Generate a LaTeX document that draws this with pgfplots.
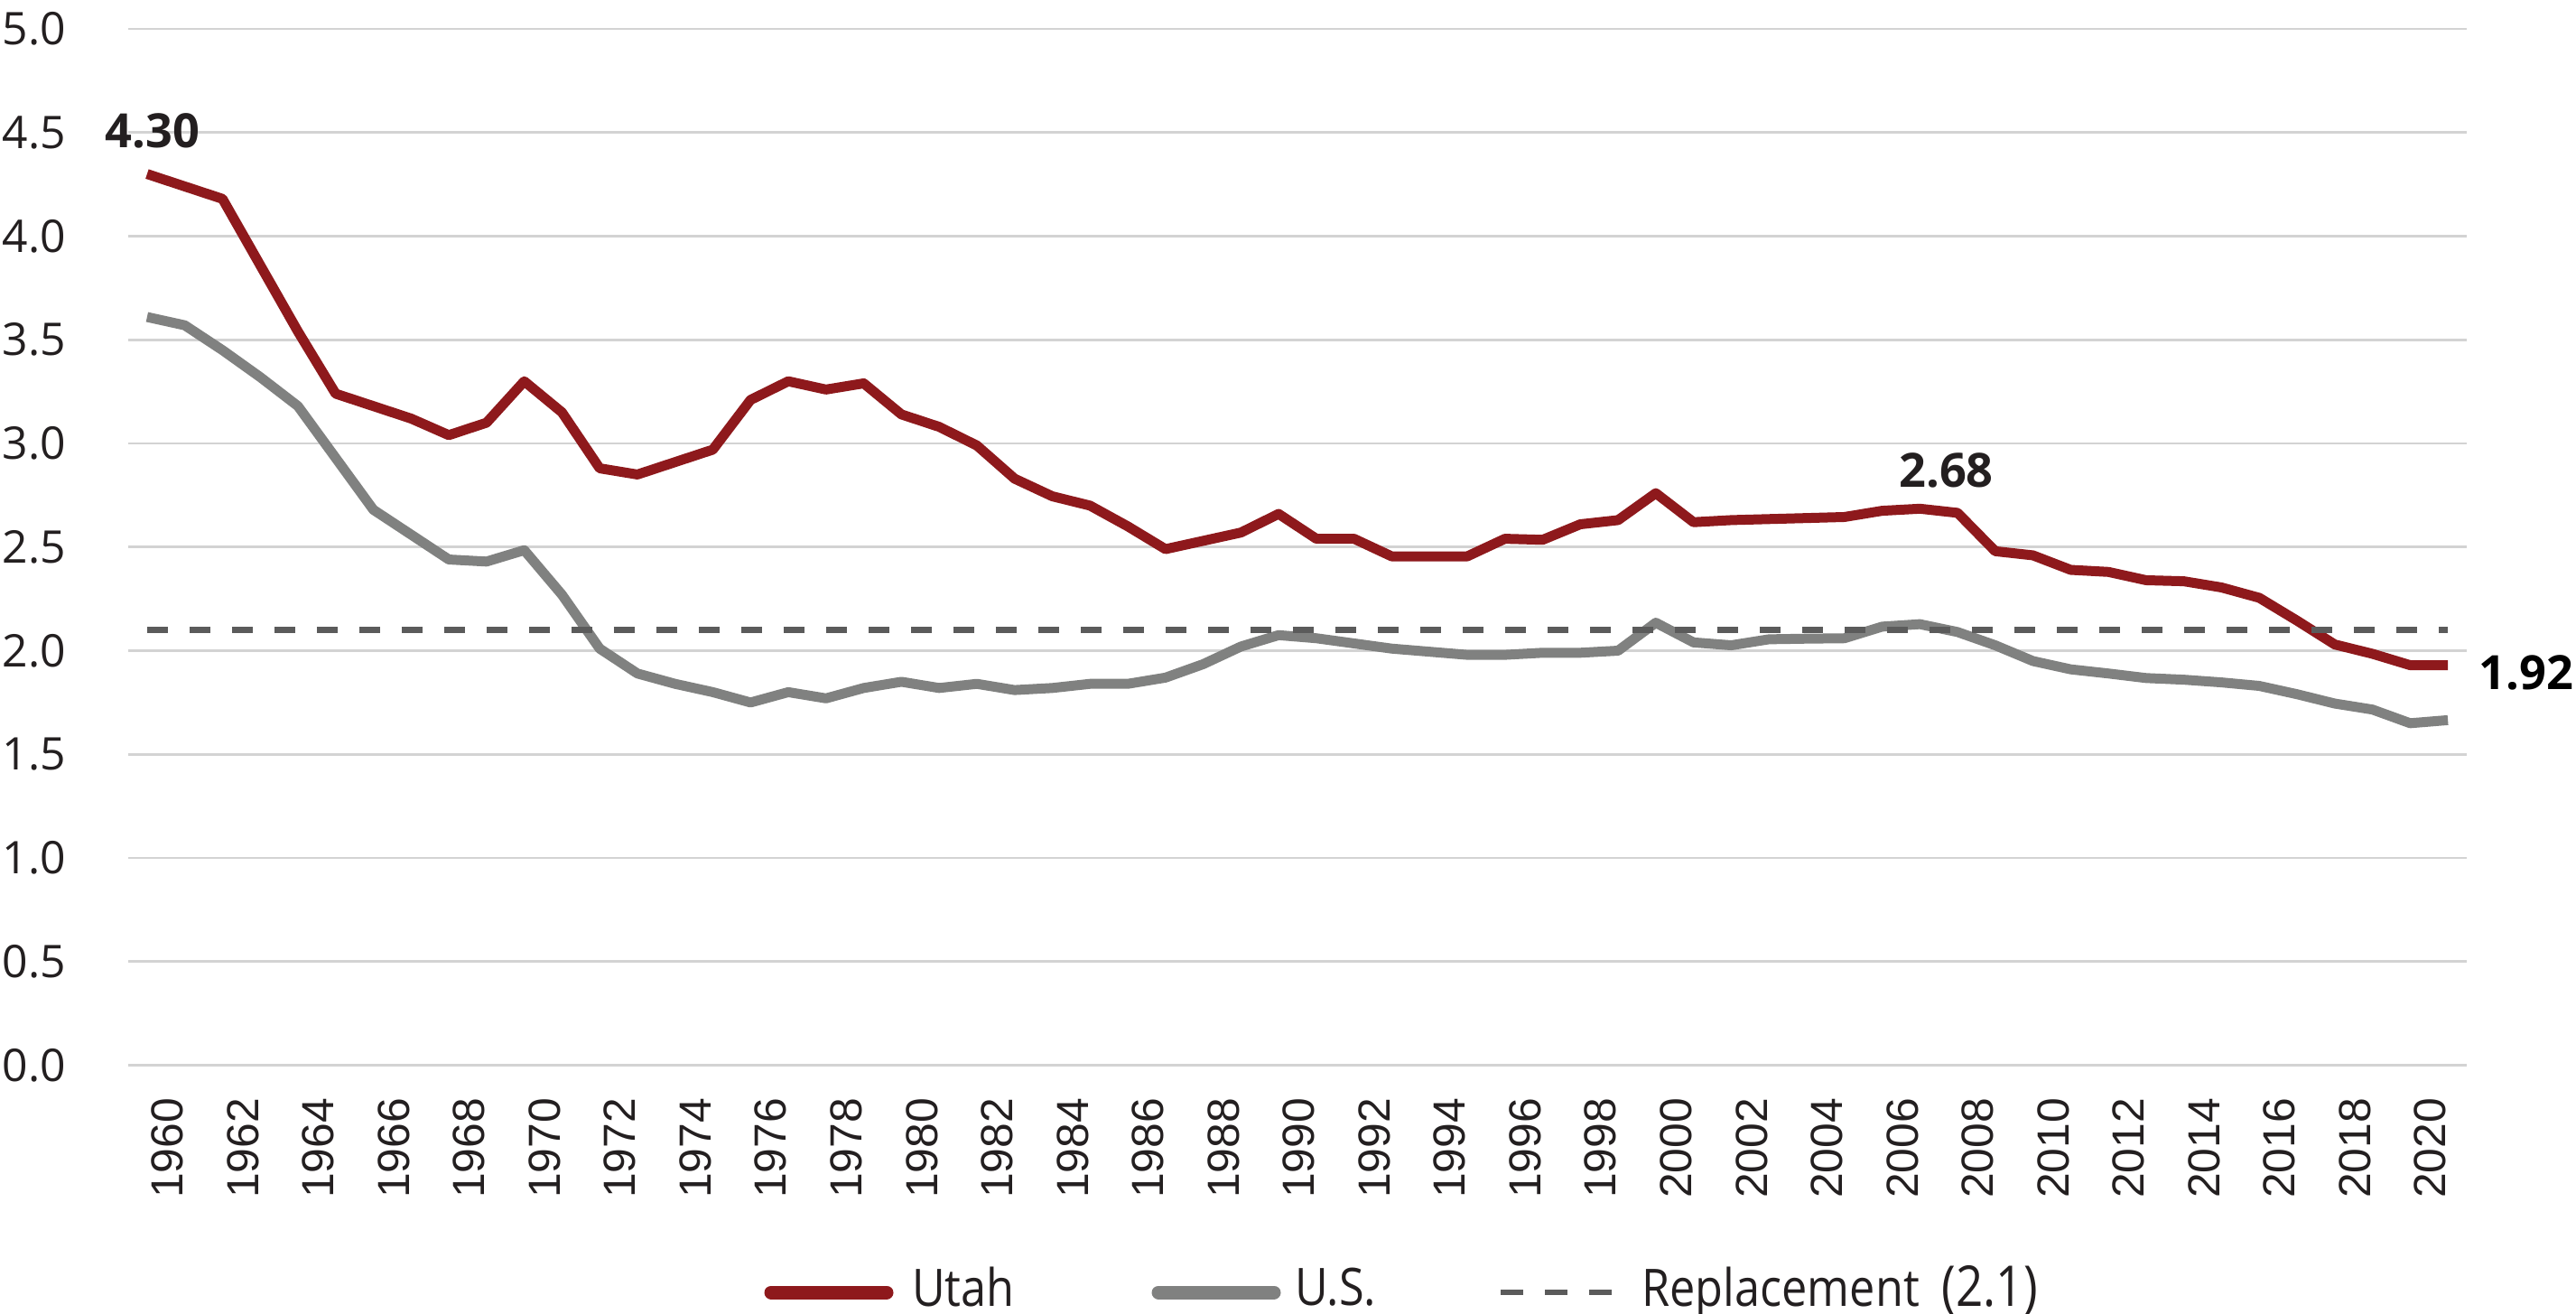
\documentclass[border=0pt]{standalone}
\usepackage{fontspec}
\setmainfont{Open Sans}
\newfontfamily\libsans{Liberation Sans}
\usepackage{graphicx}
\usepackage{pgfplots}
\pgfplotsset{compat=1.18}
\usepackage{pgfplotstable}

\definecolor{utahred}{HTML}{8E191C}
\definecolor{usgray}{HTML}{808180}
\definecolor{gridgray}{HTML}{D3D3D3}
\definecolor{dashgray}{HTML}{5B5B5B}
\definecolor{txt}{HTML}{231F20}

\pgfplotstableread{
year utah us
1960 4.30 3.61
1961 4.24 3.57
1962 4.18 3.45
1963 3.86 3.32
1964 3.54 3.18
1965 3.24 2.93
1966 3.18 2.68
1967 3.12 2.56
1968 3.04 2.44
1969 3.10 2.43
1970 3.30 2.485
1971 3.15 2.27
1972 2.88 2.01
1973 2.85 1.89
1974 2.91 1.84
1975 2.97 1.80
1976 3.21 1.75
1977 3.30 1.80
1978 3.26 1.77
1979 3.29 1.82
1980 3.14 1.85
1981 3.08 1.82
1982 2.99 1.84
1983 2.83 1.81
1984 2.745 1.82
1985 2.70 1.84
1986 2.60 1.84
1987 2.49 1.87
1988 2.53 1.935
1989 2.57 2.02
1990 2.66 2.075
1991 2.54 2.06
1992 2.54 2.035
1993 2.455 2.01
1994 2.455 1.995
1995 2.455 1.98
1996 2.54 1.98
1997 2.535 1.99
1998 2.61 1.99
1999 2.63 2.00
2000 2.76 2.135
2001 2.62 2.04
2002 2.63 2.026
2003 2.635 2.055
2004 2.64 2.058
2005 2.645 2.06
2006 2.675 2.116
2007 2.685 2.128
2008 2.665 2.09
2009 2.48 2.026
2010 2.46 1.95
2011 2.39 1.91
2012 2.38 1.89
2013 2.34 1.868
2014 2.335 1.86
2015 2.305 1.847
2016 2.255 1.83
2017 2.145 1.79
2018 2.03 1.745
2019 1.985 1.716
2020 1.93 1.65
2021 1.93 1.665
}\tfr

\begin{document}
\begin{tikzpicture}
\begin{axis}[
  scale only axis,
  width=518bp, height=229.5bp,
  xmin=1959.5, xmax=2021.5, ymin=0, ymax=5,
  clip=false,
  axis line style={draw=none},
  tick style={draw=none},
  major tick length=0pt,
  /pgf/number format/assume math mode=true,
  ytick={0,0.5,...,5},
  ymajorgrids,
  grid style={gridgray, line width=0.55bp},
  yticklabel style={/pgf/number format/.cd, fixed, fixed zerofill, precision=1, assume math mode=true, /tikz/.cd,
    font=\fontsize{10}{12}\selectfont, color=txt, anchor=east, inner sep=0pt, xshift=-13.6bp},
  xtick={1960,1962,...,2020},
  xticklabel style={/pgf/number format/.cd, 1000 sep={}, assume math mode=true, /tikz/.cd,
    font=\libsans\fontsize{10}{12}\selectfont, color=txt, inner sep=0pt,
    xshift=4.5bp, yshift=-7.1bp, rotate=90, anchor=east},
  legend columns=3,
  legend cell align=left,
  legend style={at={(0.2699,-0.2166)}, anchor=west, draw=none, fill=none,
    inner sep=0pt, outer sep=0pt,
    nodes={inner sep=0pt, text=txt},
    font=\fontsize{11.5}{13}\selectfont,
    column sep=0pt},
]
\addplot[utahred, line width=2.2bp, line join=round,
  legend image code/.code={\path (0bp,0bp) (28.6bp,0bp);
    \draw[utahred, line width=3bp, line cap=round] (1.5bp,-0.6bp) -- (27.1bp,-0.6bp);}]
  table[x=year, y=utah]{\tfr};
\addlegendentry{\makebox[55bp][l]{\hspace{3bp}\scalebox{0.88}[1]{Utah}}}
\addplot[usgray, line width=2.2bp, line join=round,
  legend image code/.code={\path (0bp,0bp) (28.6bp,0bp);
    \draw[usgray, line width=3bp, line cap=round] (1.5bp,-0.6bp) -- (27.1bp,-0.6bp);}]
  table[x=year, y=us]{\tfr};
\addlegendentry{\makebox[47bp][l]{\hspace{2bp}\scalebox{0.88}[1]{U.S.}}}
\addplot[dashgray, line width=1.3bp, dash pattern=on 4.7bp off 4.7bp,
  legend image code/.code={\path (0bp,0bp) (24.6bp,0bp);
    \draw[dashgray, line width=1.3bp, dash pattern=on 5bp off 4.8bp] (0bp,-0.6bp) -- (24.6bp,-0.6bp);}]
  coordinates {(1960,2.1) (2021,2.1)};
\addlegendentry{\hspace{6bp}\scalebox{0.88}[1]{Replacement}\hspace{5bp}{\fontsize{12.5}{13}\selectfont\scalebox{0.85}[1]{(2.1)}}}

\node[font=\bfseries\fontsize{10.5}{12}\selectfont, text=txt] at (axis cs:1960.14,4.51) {4.30};
\node[font=\bfseries\fontsize{10.5}{12}\selectfont, text=txt] at (axis cs:2007.7,2.87) {2.68};
\node[font=\bfseries\fontsize{10.5}{12}\selectfont, text=black] at (axis cs:2023.08,1.893) {1.92};
\end{axis}
\pgfresetboundingbox
\path[use as bounding box] (-28.4bp,-55.1bp) rectangle (542.2bp,235.9bp);
\end{tikzpicture}
\end{document}
